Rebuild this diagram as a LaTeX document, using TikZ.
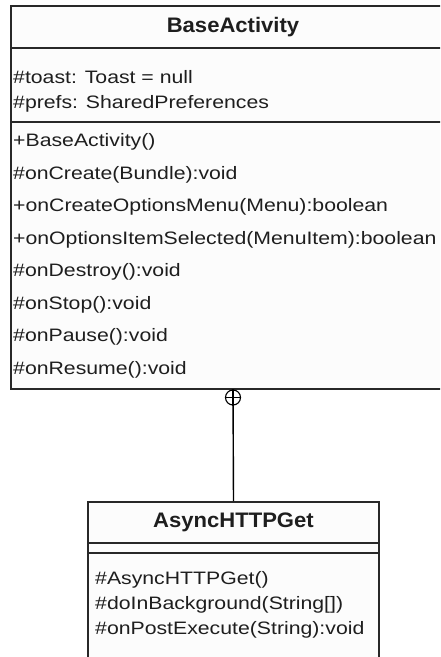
\documentclass[tikz,border=0pt]{standalone}
\usepackage{fontspec}
\setmainfont{Liberation Sans}
\newfontfamily\umlfont{Liberation Sans}[FakeStretch=1.18]
\newfontfamily\umlbold{Liberation Sans Bold}[FakeStretch=1.05]
\definecolor{umlline}{RGB}{40,40,40}
\definecolor{umlfill}{RGB}{252,252,252}
\definecolor{umltext}{RGB}{30,30,30}
\tikzset{
  classbox/.style={draw=umlline, fill=umlfill, line width=1.6pt, inner sep=0pt, rectangle},
  sepline/.style={draw=umlline, line width=1.6pt},
  classname/.style={font=\umlbold\fontsize{21}{24}\selectfont, text=umltext, inner sep=0pt},
  member/.style={font=\umlfont\fontsize{18}{21}\selectfont, text=umltext, inner sep=0pt, anchor=base west},
  nestline/.style={draw=black, line width=1.4pt},
  nestmark/.style={circle, draw=black, line width=1.1pt, fill=white, minimum size=15pt, inner sep=0pt},
}
\begin{document}
\begin{tikzpicture}[x=1pt, y=-1pt]
  \useasboundingbox (0,0) rectangle (440,657);
  \clip (0,0) rectangle (440,657);

  % BaseActivity class
  \node[classbox, minimum width=444pt, minimum height=383pt] (base) at (233,197.5) {};
  \node[classname] (baseName) at (233,27) {BaseActivity};
  \coordinate (bs1) at (11,48);
  \coordinate (bs2) at (11,122);
  \draw[sepline] (bs1) -- ++(444,0);
  \draw[sepline] (bs2) -- ++(444,0);

  \node[member] (a1) at (13,83.5) {\#toast: Toast = null};
  \node[member] (a2) at (13,108.5) {\#prefs: SharedPreferences};

  \node[member] (m1) at (13,146.5) {+BaseActivity()};
  \node[member] (m2) at (13,179) {\#onCreate(Bundle):void};
  \node[member] (m3) at (13,211.5) {+onCreateOptionsMenu(Menu):boolean};
  \node[member] (m4) at (13,244) {+onOptionsItemSelected(MenuItem):boolean};
  \node[member] (m5) at (13,276.5) {\#onDestroy():void};
  \node[member] (m6) at (13,309) {\#onStop():void};
  \node[member] (m7) at (13,341.5) {\#onPause():void};
  \node[member] (m8) at (13,374) {\#onResume():void};

  % AsyncHTTPGet class
  \node[classbox, minimum width=291pt, minimum height=200pt] (async) at (233.5,602) {};
  \node[classname] (asyncName) at (233.5,522) {AsyncHTTPGet};
  \coordinate (as1) at (88,543);
  \coordinate (as2) at (88,553);
  \draw[sepline] (as1) -- ++(291,0);
  \draw[sepline] (as2) -- ++(291,0);

  \node[member] (n1) at (95,584) {\#AsyncHTTPGet()};
  \node[member] (n2) at (95,609) {\#doInBackground(String[])};
  \node[member] (n3) at (95,634) {\#onPostExecute(String):void};

  % nesting connector with circle-plus at the outer class
  \draw[nestline] (base.south) -- (async.north);
  \node[nestmark] (nest) at (233,397.5) {};
  \draw[line width=1.1pt] (nest.west) -- (nest.east);
  \draw[line width=1.1pt] (nest.north) -- (nest.south);
\end{tikzpicture}
\end{document}
